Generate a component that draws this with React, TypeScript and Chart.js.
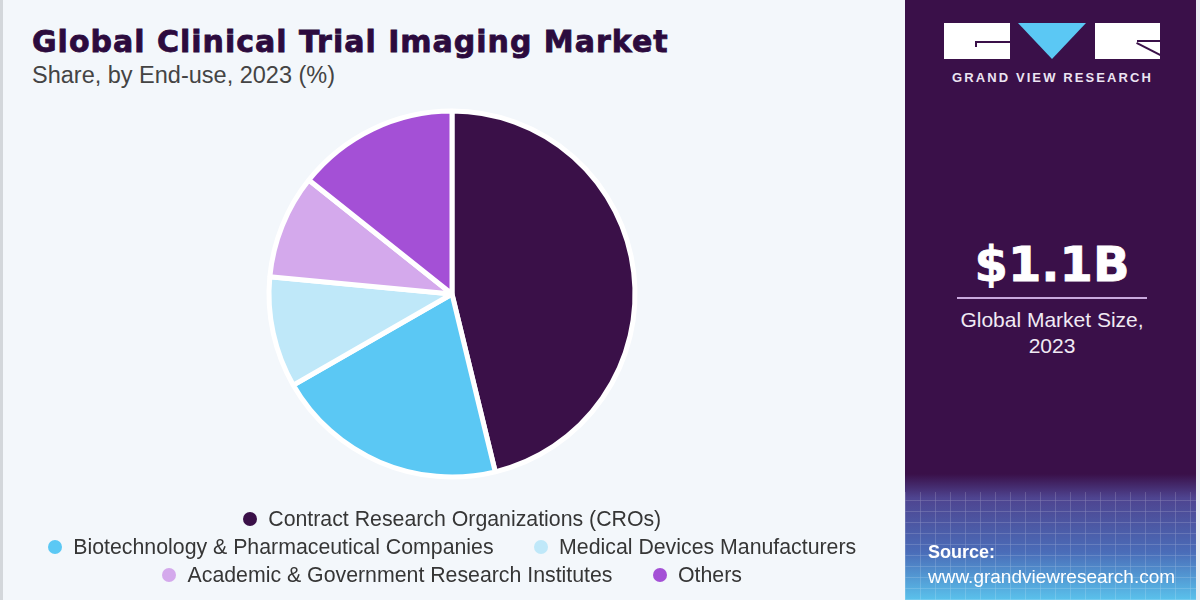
import React, { useEffect, useRef } from "react";
import { Chart, registerables } from "chart.js";

Chart.register(...registerables);

const categories = [
  "Contract Research Organizations (CROs)",
  "Biotechnology & Pharmaceutical Companies",
  "Medical Devices Manufacturers",
  "Academic & Government Research Institutes",
  "Others",
];
const shares = [46.2, 20.5, 9.8, 9.2, 14.3];
const colors = ["#3a1048", "#5bc8f4", "#bfe8f9", "#d4a9ec", "#a450d6"];

const titleText = "Global Clinical Trial Imaging Market";
const subtitleText = "Share, by End-use, 2023 (%)";
const marketValue = "$1.1B";
const marketLabel = ["Global Market Size,", "2023"];
const sourceLabel = "Source:";
const sourceUrl = "www.grandviewresearch.com";
const brand = "GRAND VIEW RESEARCH";

export default function App() {
  const canvasRef = useRef<HTMLCanvasElement | null>(null);

  useEffect(() => {
    if (!canvasRef.current) return;
    const chart = new Chart(canvasRef.current, {
      type: "pie",
      data: {
        labels: categories,
        datasets: [
          {
            data: shares,
            backgroundColor: colors,
            borderColor: "#ffffff",
            borderWidth: 5,
            radius: 183,
          } as any,
        ],
      },
      options: {
        animation: false,
        responsive: false,
        devicePixelRatio: 1,
        layout: { padding: { top: 100, bottom: 112, left: 0, right: 0 } },
        plugins: {
          legend: { display: false },
          tooltip: { enabled: false },
        },
      },
    });
    return () => chart.destroy();
  }, []);

  const font = "'Liberation Sans', Arial, sans-serif";

  return (
    <div
      style={{
        position: "fixed",
        left: 0,
        top: 0,
        width: 1200,
        height: 600,
        overflow: "hidden",
        background: "#f3f7fb",
        fontFamily: font,
      }}
    >
      <div style={{ position: "absolute", left: 0, top: 0, width: 3, height: 600, background: "#d3d7db" }} />
      <div
        style={{
          position: "absolute",
          left: 32,
          top: 24,
          fontFamily: "'DejaVu Sans', sans-serif",
          fontWeight: 700,
          fontSize: 30,
          letterSpacing: 1.0,
          color: "#2c0b3e",
          WebkitTextStroke: "0.8px #2c0b3e",
          whiteSpace: "nowrap",
          lineHeight: "36px",
        }}
      >
        {titleText}
      </div>
      <div
        style={{
          position: "absolute",
          left: 32,
          top: 62,
          fontSize: 23.5,
          color: "#444",
          whiteSpace: "nowrap",
          lineHeight: "27px",
        }}
      >
        {subtitleText}
      </div>

      <canvas
        ref={canvasRef}
        width={904}
        height={600}
        style={{ position: "absolute", left: 0, top: 0, width: 904, height: 600 }}
      />

      <div
        style={{
          position: "absolute",
          left: 17,
          top: 505,
          width: 870,
          display: "flex",
          flexWrap: "wrap",
          justifyContent: "center",
          columnGap: 40,
          fontSize: 21.3,
          lineHeight: "28px",
          color: "#363636",
        }}
      >
        {categories.map((c, i) => (
          <div key={c} style={{ display: "flex", alignItems: "center", whiteSpace: "nowrap" }}>
            <span
              style={{
                display: "inline-block",
                width: 14,
                height: 14,
                borderRadius: 7,
                background: colors[i],
                marginRight: 11.5,
              }}
            />
            <span>{c}</span>
          </div>
        ))}
      </div>

      {/* Right panel */}
      <div
        style={{
          position: "absolute",
          left: 905,
          top: 0,
          width: 291,
          height: 600,
          background:
            "linear-gradient(to bottom, #3a1049 0%, #3a1049 79%, #4e4490 83%, #4a6cb8 92%, #5ac2ec 100%)",
        }}
      >
        <div
          style={{
            position: "absolute",
            left: 0,
            bottom: 0,
            width: 291,
            height: 108,
            opacity: 0.3,
            backgroundImage:
              "repeating-linear-gradient(90deg, rgba(255,255,255,0.5) 0 1px, transparent 1px 15px), repeating-linear-gradient(0deg, rgba(255,255,255,0.5) 0 1px, transparent 1px 11px)",
          }}
        />
        {/* logo */}
        <div style={{ position: "absolute", left: 39, top: 23, width: 66, height: 36, background: "#fff" }}>
          <div style={{ position: "absolute", left: 31, top: 18, width: 35, height: 1.5, background: "#3a1049" }} />
          <div style={{ position: "absolute", left: 31, top: 18, width: 1.5, height: 6, background: "#3a1049" }} />
        </div>
        <div
          style={{
            position: "absolute",
            left: 113,
            top: 23,
            width: 0,
            height: 0,
            borderLeft: "34px solid transparent",
            borderRight: "34px solid transparent",
            borderTop: "36px solid #5bc8f4",
          }}
        />
        <div style={{ position: "absolute", left: 190, top: 23, width: 65, height: 36, background: "#fff", overflow: "hidden" }}>
          <div style={{ position: "absolute", left: 42, top: 17, width: 23, height: 1.5, background: "#3a1049" }} />
          <div
            style={{
              position: "absolute",
              left: 42,
              top: 19,
              width: 27,
              height: 1.5,
              background: "#3a1049",
              transform: "rotate(27deg)",
              transformOrigin: "0 0",
            }}
          />
        </div>
        <div
          style={{
            position: "absolute",
            left: 39,
            top: 70,
            width: 217,
            textAlign: "center",
            fontWeight: 700,
            fontSize: 13,
            letterSpacing: 2.1,
            color: "#ece4f2",
            whiteSpace: "nowrap",
            lineHeight: "16px",
          }}
        >
          {brand}
        </div>

        <div
          style={{
            position: "absolute",
            left: 0,
            top: 236,
            width: 294,
            textAlign: "center",
            fontFamily: "'DejaVu Sans', sans-serif",
            fontWeight: 700,
            fontSize: 48,
            color: "#ffffff",
            WebkitTextStroke: "0.8px #ffffff",
            lineHeight: "56px",
          }}
        >
          {marketValue}
        </div>
        <div style={{ position: "absolute", left: 52, top: 297, width: 190, height: 2, background: "#c9a9de" }} />
        <div
          style={{
            position: "absolute",
            left: 0,
            top: 307,
            width: 294,
            textAlign: "center",
            fontSize: 21,
            color: "#f0eaf4",
            lineHeight: "26px",
          }}
        >
          <div>{marketLabel[0]}</div>
          <div>{marketLabel[1]}</div>
        </div>

        <div
          style={{
            position: "absolute",
            left: 23,
            top: 541,
            fontWeight: 700,
            fontSize: 18,
            color: "#ffffff",
            lineHeight: "22px",
          }}
        >
          {sourceLabel}
        </div>
        <div
          style={{
            position: "absolute",
            left: 23,
            top: 566,
            fontSize: 19,
            color: "#ffffff",
            lineHeight: "22px",
            whiteSpace: "nowrap",
          }}
        >
          {sourceUrl}
        </div>
      </div>
      <div style={{ position: "absolute", left: 1196, top: 0, width: 4, height: 600, background: "#e9eef3" }} />
    </div>
  );
}
